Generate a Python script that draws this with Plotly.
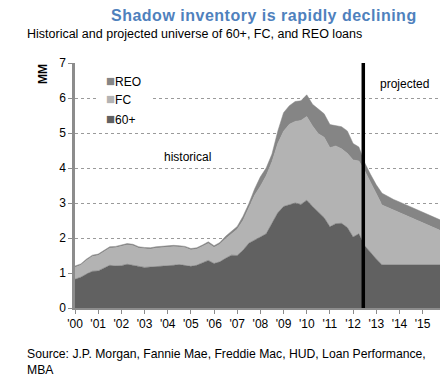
import plotly.graph_objects as go

# ---------------- data (MM loans, quarterly) ----------------
quarters = [2000 + i / 4 for i in range(64)]

dq60 = [0.82, 0.88, 0.97, 1.05, 1.06, 1.13, 1.22, 1.20, 1.21, 1.25, 1.22, 1.17,
        1.16, 1.17, 1.18, 1.18, 1.19, 1.22, 1.24, 1.22, 1.19, 1.22, 1.28, 1.36,
        1.27, 1.32, 1.42, 1.51, 1.50, 1.65, 1.85, 1.95, 2.03, 2.12, 2.40, 2.72,
        2.90, 2.94, 3.00, 2.96, 3.08, 2.90, 2.75, 2.58, 2.32, 2.41, 2.42, 2.30,
        2.03, 2.12, 1.78, 1.58, 1.40, 1.23, 1.23, 1.23, 1.23, 1.23, 1.23, 1.23,
        1.23, 1.23, 1.23, 1.23]

fc = [0.34, 0.34, 0.39, 0.42, 0.44, 0.47, 0.49, 0.52, 0.54, 0.55, 0.56, 0.54,
      0.53, 0.51, 0.53, 0.55, 0.56, 0.53, 0.50, 0.50, 0.47, 0.46, 0.48, 0.48,
      0.46, 0.50, 0.56, 0.61, 0.75, 0.85, 1.00, 1.27, 1.45, 1.66, 1.78, 1.98,
      2.15, 2.31, 2.33, 2.40, 2.39, 2.30, 2.23, 2.30, 2.26, 2.22, 2.13, 2.12,
      2.20, 2.08, 2.14, 2.00, 1.85, 1.71, 1.64, 1.57, 1.49, 1.42, 1.35, 1.28,
      1.21, 1.14, 1.06, 0.99]

reo = [0.04, 0.04, 0.04, 0.04, 0.04, 0.04, 0.04, 0.04, 0.04, 0.04, 0.04, 0.04,
       0.04, 0.04, 0.04, 0.04, 0.04, 0.04, 0.04, 0.04, 0.04, 0.04, 0.04, 0.05,
       0.05, 0.05, 0.07, 0.08, 0.08, 0.12, 0.13, 0.18, 0.27, 0.22, 0.22, 0.35,
       0.53, 0.53, 0.57, 0.56, 0.62, 0.62, 0.70, 0.67, 0.66, 0.59, 0.63, 0.64,
       0.47, 0.40, 0.23, 0.24, 0.27, 0.34, 0.31, 0.30, 0.31, 0.31, 0.30, 0.29,
       0.29, 0.29, 0.30, 0.30]

year_ticks = list(range(2000, 2016))
year_labels = ["'%02d" % (y - 2000) for y in year_ticks]
projection_start = 2012.44

# ---------------- styling ----------------
C_60 = "#616161"
C_FC = "#b3b3b3"
C_REO = "#858585"
FONT = "Liberation Sans, Arial, sans-serif"

W, H = 447, 391
ML, MR, MT, MB = 75, 7, 63, 83
PW, PH = W - ML - MR, H - MT - MB


def px(x):
    return (x - ML) / PW


def py(y):
    return (H - MB - y) / PH


fig = go.Figure()
for name, vals, col in [("60+", dq60, C_60), ("FC", fc, C_FC), ("REO", reo, C_REO)]:
    fig.add_trace(go.Scatter(
        x=quarters, y=vals, name=name, mode="lines", stackgroup="one",
        line=dict(width=0.5, color=col), fillcolor=col, showlegend=False,
        hoverinfo="x+y+name"))

fig.add_shape(type="line", xref="x", yref="y", x0=projection_start,
              x1=projection_start, y0=0, y1=7,
              line=dict(color="black", width=3.5), layer="above")

# white box behind legend
fig.add_shape(type="rect", xref="paper", yref="paper",
              x0=px(97), x1=px(153), y0=py(126), y1=py(71),
              fillcolor="white", line=dict(width=0), layer="above")

ann = []
ann.append(dict(text="<span style='letter-spacing:0.5px'><b>Shadow inventory is rapidly declining</b></span>",
                x=px(264), y=py(15), xref="paper", yref="paper",
                xanchor="center", yanchor="middle", showarrow=False,
                font=dict(size=16, color="#4f81bd", family=FONT)))
ann.append(dict(text="Historical and projected universe of 60+, FC, and REO loans",
                x=px(25), y=py(34), xref="paper", yref="paper",
                xanchor="left", yanchor="middle", showarrow=False,
                font=dict(size=12.5, color="black", family=FONT)))
ann.append(dict(text="<b>MM</b>", x=px(43), y=py(74), xref="paper", yref="paper",
                xanchor="center", yanchor="middle", showarrow=False,
                textangle=-90, font=dict(size=12, color="black", family=FONT)))
for lab, col, yy in [("REO", C_REO, 80), ("FC", C_FC, 98.5), ("60+", C_60, 118)]:
    ann.append(dict(text="<span style='color:%s;font-size:15px'>■</span>%s" % (col, lab),
                    x=px(104), y=py(yy), xref="paper", yref="paper",
                    xanchor="left", yanchor="middle", showarrow=False,
                    font=dict(size=12, color="black", family=FONT)))
ann.append(dict(text="historical", x=px(187), y=py(157), xref="paper", yref="paper",
                xanchor="center", yanchor="middle", showarrow=False,
                font=dict(size=12, color="black", family=FONT)))
ann.append(dict(text="projected", x=px(404), y=py(84), xref="paper", yref="paper",
                xanchor="center", yanchor="middle", showarrow=False,
                font=dict(size=12, color="black", family=FONT)))
ann.append(dict(text="Source: J.P. Morgan, Fannie Mae, Freddie Mac, HUD, Loan Performance,<br>MBA",
                x=px(25), y=py(345), xref="paper", yref="paper",
                xanchor="left", yanchor="top", align="left", showarrow=False,
                font=dict(size=12.2, color="black", family=FONT)))

fig.update_layout(
    width=W, height=H, margin=dict(l=ML, r=MR, t=MT, b=MB),
    paper_bgcolor="white", plot_bgcolor="white",
    font=dict(family=FONT, size=12, color="black"),
    annotations=ann, showlegend=False,
    xaxis=dict(range=[2000, quarters[-1]], tickvals=year_ticks, ticktext=year_labels,
               showgrid=False, zeroline=False, showline=True, linecolor="#8c8c8c",
               linewidth=2, ticks="outside", ticklen=4, tickcolor="#8c8c8c",
               tickwidth=1, tickfont=dict(size=12, family=FONT)),
    yaxis=dict(range=[0, 7], tickvals=list(range(8)), showgrid=True,
               gridcolor="#9a9a9a", griddash="dot", gridwidth=1, zeroline=False,
               showline=True, linecolor="#8c8c8c", linewidth=2.5, ticks="outside",
               ticklen=4, tickcolor="#8c8c8c", tickwidth=1,
               tickfont=dict(size=12, family=FONT)),
)

fig.write_html("out.html", config={"displayModeBar": False},
               post_script="document.body.style.margin='0';")
